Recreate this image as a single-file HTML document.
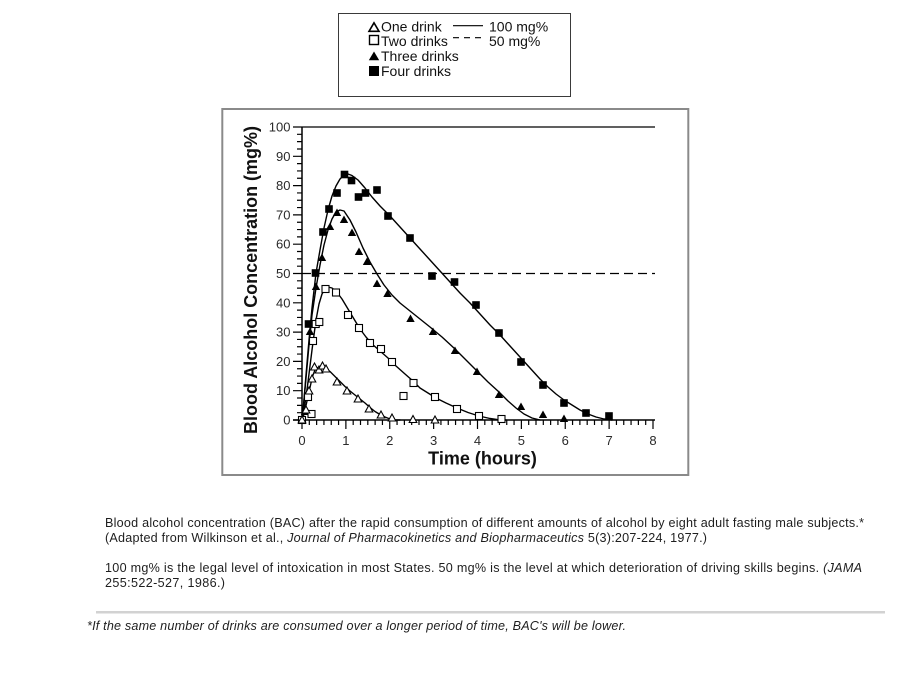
<!DOCTYPE html>
<html>
<head>
<meta charset="utf-8">
<style>
html,body{margin:0;padding:0;background:#fff;}
svg{display:block;}
text{font-family:"Liberation Sans",Arial,sans-serif;}
</style>
</head>
<body>
<svg width="906" height="677" viewBox="0 0 906 677" xmlns="http://www.w3.org/2000/svg">
<rect x="0" y="0" width="906" height="677" fill="#fff"/>

<!-- Legend box -->
<rect x="338.5" y="13.5" width="232" height="83" fill="#fff" stroke="#3a3a3a" stroke-width="1"/>
<polygon points="374,22.8 369,31.3 379,31.3" fill="#fff" stroke="#000" stroke-width="1.6"/>
<rect x="369.5" y="35.5" width="9" height="9" fill="#fff" stroke="#000" stroke-width="1.4"/>
<polygon points="374,51.5 368.8,60.3 379.2,60.3" fill="#000"/>
<rect x="369" y="66" width="10" height="10" fill="#000"/>
<text x="381" y="31.7" font-size="14" fill="#111">One drink</text>
<text x="381" y="46" font-size="14" fill="#111">Two drinks</text>
<text x="381" y="61" font-size="14" fill="#111">Three drinks</text>
<text x="381" y="76" font-size="14" fill="#111">Four drinks</text>
<line x1="453" y1="25.7" x2="483" y2="25.7" stroke="#000" stroke-width="1.2"/>
<line x1="453" y1="37.7" x2="483" y2="37.7" stroke="#000" stroke-width="1.2" stroke-dasharray="6,5"/>
<text x="489" y="31.7" font-size="14" fill="#111">100 mg%</text>
<text x="489" y="46" font-size="14" fill="#111">50 mg%</text>

<!-- Plot frame -->
<rect x="222.3" y="109" width="466" height="366" fill="none" stroke="#8a8a8a" stroke-width="2"/>

<!-- Reference lines -->
<line x1="302" y1="127" x2="655" y2="127" stroke="#000" stroke-width="1.3"/>
<line x1="302" y1="273.5" x2="655" y2="273.5" stroke="#000" stroke-width="1.2" stroke-dasharray="9,5"/>

<!-- Axes -->
<line x1="302" y1="127" x2="302" y2="421" stroke="#000" stroke-width="1.5"/>
<line x1="293" y1="420" x2="655" y2="420" stroke="#000" stroke-width="1.5"/>

<!-- Y ticks -->
<path stroke="#000" stroke-width="1.2" fill="none" d="
M293 420H302 M297 412.68H302 M297 405.35H302 M297 398.03H302
M293 390.7H302 M297 383.38H302 M297 376.05H302 M297 368.73H302
M293 361.4H302 M297 354.08H302 M297 346.75H302 M297 339.43H302
M293 332.1H302 M297 324.78H302 M297 317.45H302 M297 310.13H302
M293 302.8H302 M297 295.48H302 M297 288.15H302 M297 280.83H302
M293 273.5H302 M297 266.18H302 M297 258.85H302 M297 251.53H302
M293 244.2H302 M297 236.88H302 M297 229.55H302 M297 222.23H302
M293 214.9H302 M297 207.58H302 M297 200.25H302 M297 192.93H302
M293 185.6H302 M297 178.28H302 M297 170.95H302 M297 163.63H302
M293 156.3H302 M297 148.98H302 M297 141.65H302 M297 134.33H302
M293 127H302"/>

<!-- X ticks -->
<path stroke="#000" stroke-width="1.2" fill="none" d="
M302 420v9 M309.31 420v5 M316.63 420v5 M323.94 420v5 M331.25 420v5 M338.56 420v5
M345.88 420v9 M353.19 420v5 M360.5 420v5 M367.81 420v5 M375.13 420v5 M382.44 420v5
M389.75 420v9 M397.06 420v5 M404.38 420v5 M411.69 420v5 M419 420v5 M426.31 420v5
M433.63 420v9 M440.94 420v5 M448.25 420v5 M455.56 420v5 M462.88 420v5 M470.19 420v5
M477.5 420v9 M484.81 420v5 M492.13 420v5 M499.44 420v5 M506.75 420v5 M514.06 420v5
M521.38 420v9 M528.69 420v5 M536 420v5 M543.31 420v5 M550.63 420v5 M557.94 420v5
M565.25 420v9 M572.56 420v5 M579.88 420v5 M587.19 420v5 M594.5 420v5 M601.81 420v5
M609.13 420v9 M616.44 420v5 M623.75 420v5 M631.06 420v5 M638.38 420v5 M645.69 420v5
M653 420v9"/>

<!-- Y tick labels -->
<g font-size="13" fill="#2a2a2a" text-anchor="end">
<text x="290.5" y="424.5">0</text>
<text x="290.5" y="395.2">10</text>
<text x="290.5" y="365.9">20</text>
<text x="290.5" y="336.6">30</text>
<text x="290.5" y="307.3">40</text>
<text x="290.5" y="278">50</text>
<text x="290.5" y="248.7">60</text>
<text x="290.5" y="219.4">70</text>
<text x="290.5" y="190.1">80</text>
<text x="290.5" y="160.8">90</text>
<text x="290.5" y="131.5">100</text>
</g>

<!-- X tick labels -->
<g font-size="13" fill="#2a2a2a" text-anchor="middle">
<text x="302" y="445">0</text>
<text x="345.88" y="445">1</text>
<text x="389.75" y="445">2</text>
<text x="433.63" y="445">3</text>
<text x="477.5" y="445">4</text>
<text x="521.38" y="445">5</text>
<text x="565.25" y="445">6</text>
<text x="609.13" y="445">7</text>
<text x="653" y="445">8</text>
</g>

<!-- Axis titles -->
<text x="482.5" y="464.5" font-size="18" font-weight="bold" fill="#111" text-anchor="middle">Time (hours)</text>
<text transform="translate(257,280) rotate(-90)" x="0" y="0" font-size="18" font-weight="bold" fill="#111" text-anchor="middle" textLength="308" lengthAdjust="spacingAndGlyphs">Blood Alcohol Concentration (mg%)</text>

<!-- Curves -->
<g fill="none" stroke="#000" stroke-width="1.4" stroke-linejoin="round" stroke-linecap="round">
<polyline points="302,420 304,400 306,375 309,340 312,308 316,273 320,250 324,228 328,210 332,196 336,186 340,179 344,175 348,174 352,175.5 358,180 365,188 372,197 380,206 390,216 400,227 410,238 420,249 430,260 440,271 450,282 460,293 470,303 480,314 490,325 500,335 510,346 520,357 530,368 540,379 548,387 556,394 564,400 572,405 580,410 588,414 596,417 604,419 612,420"/>
<polyline points="302,420 304,400 306,378 309,345 312,315 316,288 320,265 324,245 328,230 332,219 336,212 340,210 344,211 350,220 356,232 363,248 370,262 377,274 384,285 392,295 400,303 410,311 420,319 430,327 442,337 455,349 466,360 477,371 488,382 499,392 508,401 516,408 524,414 532,418 540,420"/>
<polyline points="302,420 304,410 306,397 308,382 310,366 312,350 314,335 316,320 319,304 322,294 325,289 328,287 332,288 336,291 342,299 348,309 354,319 360,329 366,337 372,344 380,351 388,358 396,366 405,374 413,381 420,388 428,393 436,398 446,403 457,408 468,412.5 479,416 490,418.5 500,420 506,420"/>
<polyline points="302,420 303.5,416 305,410 307,401 309,392 311,383 313,375 315,370 318,367.5 322,367 326,368.5 330,371.5 335,376.5 340,381.5 345,386.5 350,391 355,395 360,399 365,403 370,407.5 375,411.5 380,414.5 385,417 390,419 395,420 400,420"/>
</g>

<!-- Four drinks: filled squares -->
<g fill="#000">
<rect x="298.2" y="416.2" width="7.6" height="7.6"/>
<rect x="304.7" y="320.2" width="7.6" height="7.6"/>
<rect x="311.7" y="269.2" width="7.6" height="7.6"/>
<rect x="319.2" y="228.2" width="7.6" height="7.6"/>
<rect x="325.2" y="205.2" width="7.6" height="7.6"/>
<rect x="333.2" y="189.2" width="7.6" height="7.6"/>
<rect x="340.7" y="170.7" width="7.6" height="7.6"/>
<rect x="347.7" y="176.7" width="7.6" height="7.6"/>
<rect x="354.7" y="193.2" width="7.6" height="7.6"/>
<rect x="361.7" y="189.2" width="7.6" height="7.6"/>
<rect x="373.2" y="186.2" width="7.6" height="7.6"/>
<rect x="384.2" y="212.2" width="7.6" height="7.6"/>
<rect x="406.2" y="234.2" width="7.6" height="7.6"/>
<rect x="428.2" y="272.2" width="7.6" height="7.6"/>
<rect x="450.7" y="278.2" width="7.6" height="7.6"/>
<rect x="472.2" y="301.2" width="7.6" height="7.6"/>
<rect x="495.2" y="329.2" width="7.6" height="7.6"/>
<rect x="517.2" y="358.2" width="7.6" height="7.6"/>
<rect x="539.2" y="381.2" width="7.6" height="7.6"/>
<rect x="560.2" y="399.2" width="7.6" height="7.6"/>
<rect x="582.2" y="409.2" width="7.6" height="7.6"/>
<rect x="605.2" y="412.2" width="7.6" height="7.6"/>
</g>

<!-- Three drinks: filled triangles -->
<g fill="#000">
<polygon points="302,415.5 297.8,423 306.2,423"/>
<polygon points="305,407.5 300.8,415 309.2,415"/>
<polygon points="310,327.5 305.8,335 314.2,335"/>
<polygon points="316,282.5 311.8,290 320.2,290"/>
<polygon points="322,253.5 317.8,261 326.2,261"/>
<polygon points="330,222.5 325.8,230 334.2,230"/>
<polygon points="337,208.5 332.8,216 341.2,216"/>
<polygon points="344,215.5 339.8,223 348.2,223"/>
<polygon points="352,228.5 347.8,236 356.2,236"/>
<polygon points="359,247.5 354.8,255 363.2,255"/>
<polygon points="367,257.5 362.8,265 371.2,265"/>
<polygon points="377,279.5 372.8,287 381.2,287"/>
<polygon points="387.5,289.5 383.3,297 391.7,297"/>
<polygon points="410.5,314.5 406.3,322 414.7,322"/>
<polygon points="433,327.5 428.8,335 437.2,335"/>
<polygon points="455,346.5 450.8,354 459.2,354"/>
<polygon points="477,367.5 472.8,375 481.2,375"/>
<polygon points="499,390.5 494.8,398 503.2,398"/>
<polygon points="521,402.5 516.8,410 525.2,410"/>
<polygon points="543,410.5 538.8,418 547.2,418"/>
<polygon points="564,414.5 559.8,422 568.2,422"/>
</g>

<!-- Two drinks: open squares -->
<g fill="#fff" stroke="#000" stroke-width="1.1">
<rect x="298.5" y="416.5" width="7" height="7"/>
<rect x="304.5" y="393.5" width="7" height="7"/>
<rect x="308" y="410.5" width="7" height="7"/>
<rect x="309.5" y="337.5" width="7" height="7"/>
<rect x="312.2" y="320.5" width="7" height="7"/>
<rect x="315.8" y="318.5" width="7" height="7"/>
<rect x="322" y="285.5" width="7" height="7"/>
<rect x="332.5" y="289" width="7" height="7"/>
<rect x="344.5" y="311.5" width="7" height="7"/>
<rect x="355.5" y="324.5" width="7" height="7"/>
<rect x="366.5" y="339.5" width="7" height="7"/>
<rect x="377.5" y="345.5" width="7" height="7"/>
<rect x="388.5" y="358.5" width="7" height="7"/>
<rect x="400" y="392.5" width="7" height="7"/>
<rect x="410" y="379.5" width="7" height="7"/>
<rect x="431.5" y="393.5" width="7" height="7"/>
<rect x="453.5" y="405.5" width="7" height="7"/>
<rect x="475.5" y="412.5" width="7" height="7"/>
<rect x="498" y="415.5" width="7" height="7"/>
</g>

<!-- One drink: open triangles -->
<g fill="#fff" stroke="#000" stroke-width="1.1" stroke-linejoin="miter">
<polygon points="302,416 298.2,423 305.8,423"/>
<polygon points="306,406 302.2,413 309.8,413"/>
<polygon points="309,387 305.2,394 312.8,394"/>
<polygon points="312,375 308.2,382 315.8,382"/>
<polygon points="314.5,363 310.7,370 318.3,370"/>
<polygon points="319,366 315.2,373 322.8,373"/>
<polygon points="322.5,362 318.7,369 326.3,369"/>
<polygon points="326,365 322.2,372 329.8,372"/>
<polygon points="337,378 333.2,385 340.8,385"/>
<polygon points="347,387 343.2,394 350.8,394"/>
<polygon points="358,395 354.2,402 361.8,402"/>
<polygon points="369,405 365.2,412 372.8,412"/>
<polygon points="381,411 377.2,418 384.8,418"/>
<polygon points="392,414 388.2,421 395.8,421"/>
<polygon points="413,415.5 409.2,422.5 416.8,422.5"/>
<polygon points="435,416 431.2,423 438.8,423"/>
</g>

<!-- Caption -->
<g font-size="12.6" fill="#1e1e1e">
<text x="105" y="527" textLength="759" lengthAdjust="spacing">Blood alcohol concentration (BAC) after the rapid consumption of different amounts of alcohol by eight adult fasting male subjects.*</text>
<text x="105" y="542" textLength="602" lengthAdjust="spacing">(Adapted from Wilkinson et al., <tspan font-style="italic">Journal of Pharmacokinetics and Biopharmaceutics</tspan> 5(3):207-224, 1977.)</text>
<text x="105" y="572" textLength="757" lengthAdjust="spacing">100 mg% is the legal level of intoxication in most States. 50 mg% is the level at which deterioration of driving skills begins. <tspan font-style="italic">(JAMA</tspan></text>
<text x="105" y="587" textLength="120" lengthAdjust="spacing">255:522-527, 1986.)</text>
</g>

<rect x="96" y="611" width="789" height="2.5" fill="#d2d2d2"/>

<text x="87" y="630" font-size="12.6" font-style="italic" fill="#1e1e1e" textLength="539" lengthAdjust="spacing">*If the same number of drinks are consumed over a longer period of time, BAC's will be lower.</text>
</svg>
</body>
</html>
